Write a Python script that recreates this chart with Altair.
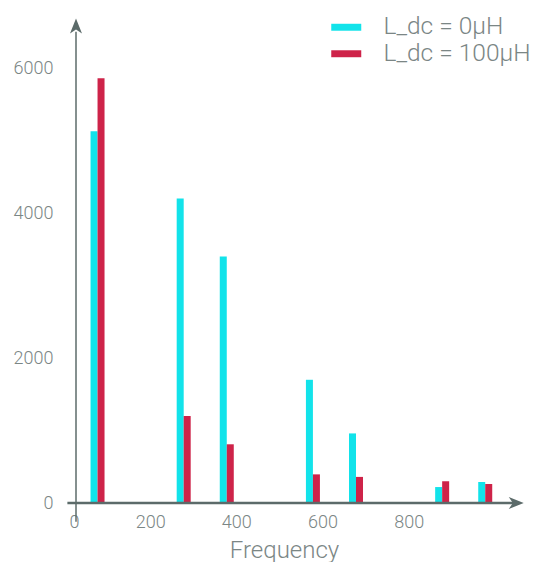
import altair as alt
import pandas as pd

# ---- data ----
freqs = [50, 250, 350, 550, 650, 850, 950]
series_names = ["L_dc = 0μH", "L_dc = 100μH"]
vals_0uH = [5130, 4200, 3400, 1700, 960, 220, 290]
vals_100uH = [5860, 1200, 810, 395, 360, 300, 262]
x_ticks = [0, 200, 400, 600, 800]
y_ticks = [0, 2000, 4000, 6000]

rows = []
for f, v in zip(freqs, vals_0uH):
    rows.append({"freq": f, "value": v, "series": series_names[0]})
for f, v in zip(freqs, vals_100uH):
    rows.append({"freq": f, "value": v, "series": series_names[1]})
df = pd.DataFrame(rows)

CYAN = "#12E3EA"
RED = "#CE2349"
AXIS = "#5C6B6A"
TEXT = "#7B8685"
FONT = "Roboto"

X_MAX = 1040
Y_MAX = 6650
W = 458
H = 482

xs = alt.Scale(domain=[0, X_MAX], nice=False, zero=False)
ys = alt.Scale(domain=[0, Y_MAX], nice=False, zero=False)
color = alt.Color(
    "series:N",
    scale=alt.Scale(domain=series_names, range=[CYAN, RED]),
    legend=alt.Legend(
        title=None,
        orient="none",
        legendX=263,
        legendY=-6,
        symbolType="M-1.25,-0.29L1.25,-0.29L1.25,0.29L-1.25,0.29Z",
        symbolSize=576,
        symbolStrokeWidth=0,
        labelFontSize=24.5,
        labelFont=FONT,
        labelFontWeight=300,
        labelColor=TEXT,
        labelOffset=25,
        rowPadding=1.5,
        padding=0,
    ),
)

base = alt.Chart(df)

xaxis = alt.Axis(
    values=x_ticks,
    format="d",
    domain=False,
    ticks=False,
    tickSize=0,
    grid=False,
    labelFontSize=18,
    labelFont=FONT,
    labelFontWeight=300,
    labelColor=TEXT,
    labelAlign="right",
    labelOffset=3,
    labelPadding=10,
    title="Frequency",
    titleFontSize=24,
    titleFont=FONT,
    titleFontWeight=300,
    titleColor=TEXT,
    titleX=213,
    titleY=35,
    titleBaseline="top",
)
yaxis = alt.Axis(
    values=y_ticks,
    format="d",
    domain=False,
    ticks=False,
    tickSize=0,
    grid=False,
    labelFontSize=18,
    labelFont=FONT,
    labelFontWeight=300,
    labelColor=TEXT,
    labelPadding=18,
    title=None,
)

bars0 = base.transform_filter(alt.datum.series == series_names[0]).mark_bar(
    width=7, xOffset=-3.5
).encode(
    x=alt.X("freq:Q", scale=xs, axis=xaxis),
    y=alt.Y("value:Q", scale=ys, axis=yaxis),
    color=color,
)
bars1 = base.transform_filter(alt.datum.series == series_names[1]).mark_bar(
    width=7, xOffset=3.5
).encode(
    x=alt.X("freq:Q", scale=xs),
    y=alt.Y("value:Q", scale=ys),
    color=color,
)

# axis lines with arrowheads
axes_df = pd.DataFrame({"a": [0]})
x_line = alt.Chart(axes_df).mark_rule(color=AXIS, strokeWidth=2.5).encode(
    x=alt.datum(-20, scale=xs), x2=alt.datum(X_MAX - 15), y=alt.datum(0, scale=ys)
)
y_line = alt.Chart(axes_df).mark_rule(color=AXIS, strokeWidth=1.5).encode(
    x=alt.datum(0, scale=xs), y=alt.datum(-260, scale=ys), y2=alt.datum(Y_MAX - 150)
)
x_arrow = alt.Chart(axes_df).mark_point(
    shape="M1,0L-1,-0.8L-0.45,0L-1,0.8Z", size=225, filled=True, opacity=1, color=AXIS
).encode(x=alt.datum(X_MAX - 18, scale=xs), y=alt.datum(0, scale=ys))
y_arrow = alt.Chart(axes_df).mark_point(
    shape="M0,-1L-0.8,1L0,0.45L0.8,1Z", size=225, filled=True, opacity=1, color=AXIS
).encode(x=alt.datum(0, scale=xs), y=alt.datum(Y_MAX - 70, scale=ys))

chart = alt.layer(bars0, bars1, x_line, y_line, x_arrow, y_arrow).properties(
    width=W,
    height=H,
    autosize=alt.AutoSizeParams(type="none"),
    padding={"left": 63, "top": 13, "right": 1, "bottom": 59},
).configure_view(stroke=None)

chart.save("out.html", embed_options={"renderer": "svg", "actions": False})
